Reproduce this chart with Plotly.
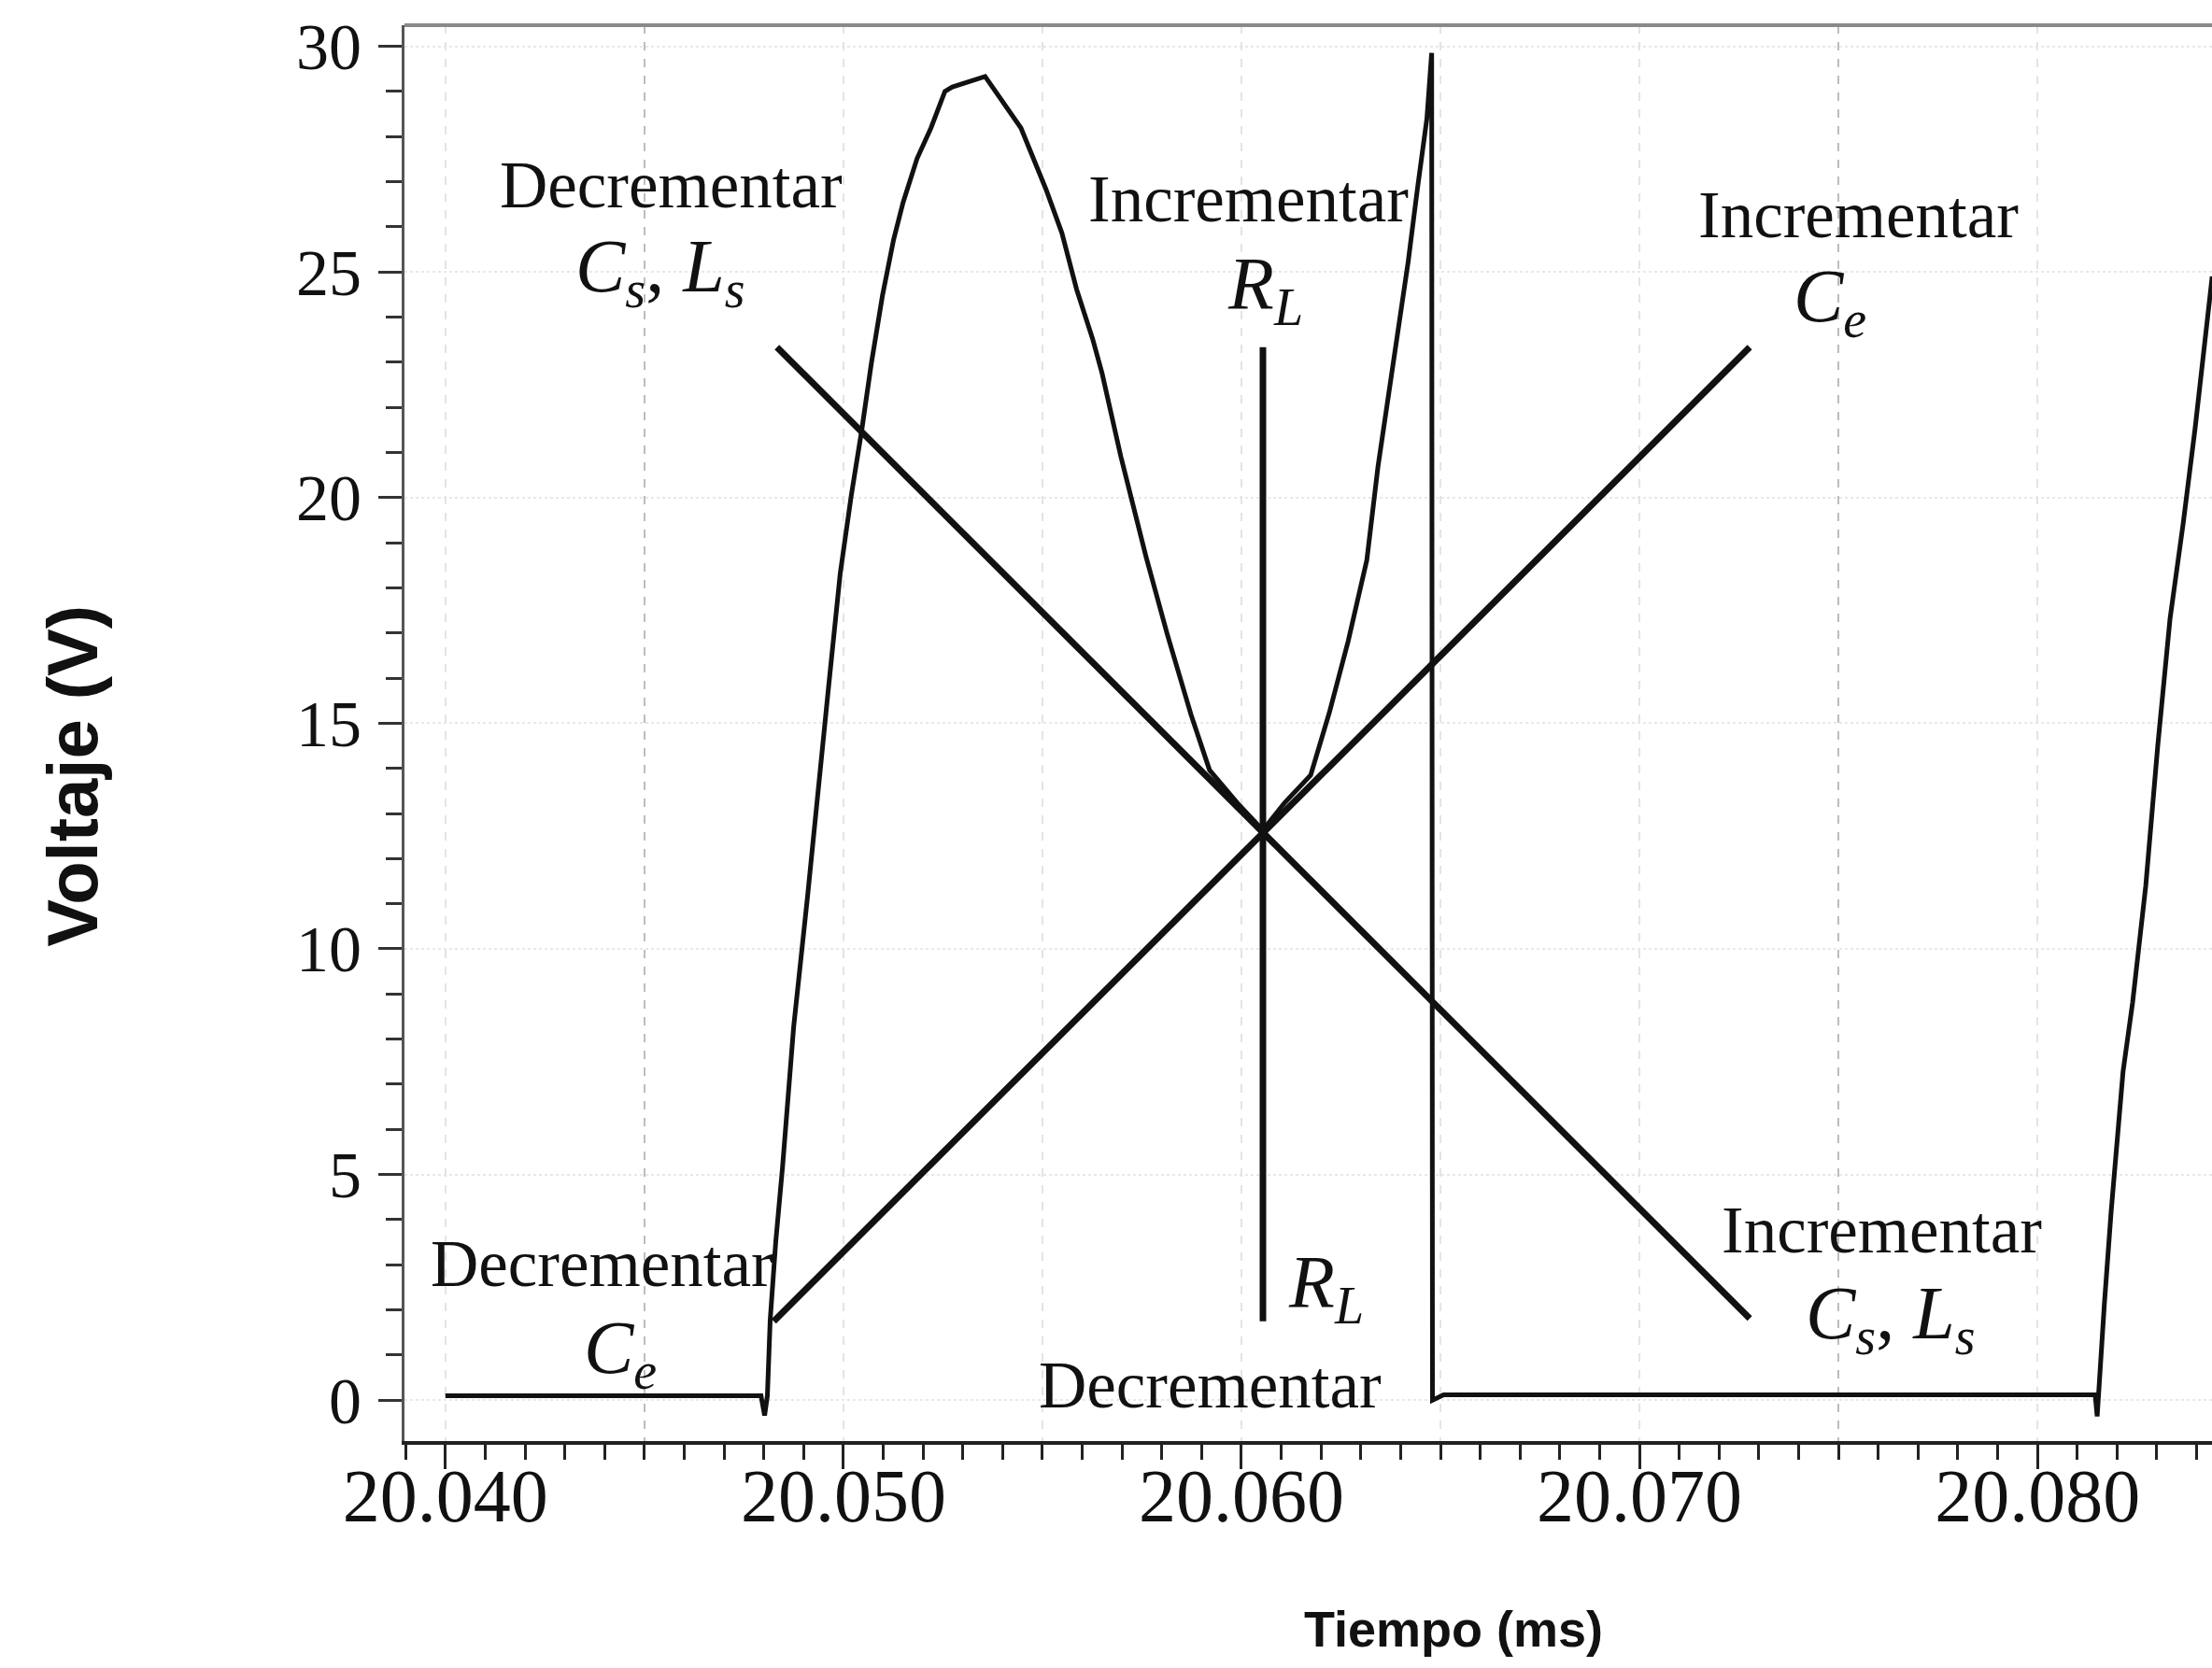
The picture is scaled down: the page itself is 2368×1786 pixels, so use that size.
import plotly.graph_objects as go

# Output voltage waveform of the converter (time in ms, voltage in V)
t_ms = [
    20.04000, 20.04793, 20.04802, 20.04809, 20.04816, 20.04830, 20.04847, 20.04875,
    20.04910, 20.04938, 20.04962, 20.04992, 20.05020, 20.05046, 20.05070, 20.05098,
    20.05126, 20.05150, 20.05185, 20.05220, 20.05255, 20.05274, 20.05356, 20.05446,
    20.05509, 20.05549, 20.05586, 20.05626, 20.05650, 20.05697, 20.05760, 20.05814,
    20.05873, 20.05920, 20.05990, 20.06054, 20.06108, 20.06174, 20.06221, 20.06268,
    20.06315, 20.06343, 20.06362, 20.06390, 20.06419, 20.06442, 20.06466, 20.06478,
    20.06480, 20.06508, 20.08145, 20.08150, 20.08157, 20.08168, 20.08185, 20.08201,
    20.08215, 20.08239, 20.08272, 20.08302, 20.08333, 20.08366, 20.08396, 20.08439,
]
v_volts = [
    0.10, 0.10, -0.34, 0.10, 1.77, 3.51, 5.16, 8.27,
    11.17, 13.52, 15.74, 18.32, 20.06, 21.49, 22.96, 24.47,
    25.71, 26.54, 27.51, 28.19, 29.00, 29.10, 29.33, 28.19,
    26.83, 25.86, 24.61, 23.52, 22.75, 20.91, 18.70, 16.96,
    15.20, 13.96, 13.23, 12.63, 13.23, 13.85, 15.24, 16.81,
    18.61, 20.68, 21.78, 23.52, 25.23, 26.83, 28.40, 29.85,
    0.00, 0.12, 0.12, -0.36, 0.78, 2.12, 4.17, 5.72,
    7.28, 8.81, 11.39, 14.48, 17.31, 19.42, 21.53, 24.90,
]

# Trend lines for the effect of each component
dec_cs_ls_t = [20.04833, 20.07277]
dec_cs_ls_v = [23.33, 1.81]
inc_ce_t = [20.04825, 20.07277]
inc_ce_v = [1.75, 23.33]
rl_t = [20.06054, 20.06054]
rl_v = [1.75, 23.33]

# Labels: text, time, voltage, font size
labels = [
    ("Decrementar", 20.04568, 26.93, 71),
    ("<i>C<sub>s</sub></i>, <i>L<sub>s</sub></i>", 20.04539, 25.00, 80),
    ("Incrementar", 20.06018, 26.62, 71),
    ("<i>R<sub>L</sub></i>", 20.06060, 24.62, 80),
    ("Incrementar", 20.07551, 26.27, 71),
    ("<i>C<sub>e</sub></i>", 20.07479, 24.34, 80),
    ("Decrementar", 20.04394, 3.03, 71),
    ("<i>C<sub>e</sub></i>", 20.04439, 1.03, 80),
    ("<i>R<sub>L</sub></i>", 20.06213, 2.49, 80),
    ("Decrementar", 20.05922, 0.34, 71),
    ("Incrementar", 20.07610, 3.78, 71),
    ("<i>C<sub>s</sub></i>, <i>L<sub>s</sub></i>", 20.07631, 1.81, 80),
]

x_tick_vals = [20.040, 20.050, 20.060, 20.070, 20.080]
x_tick_text = ["20.040", "20.050", "20.060", "20.070", "20.080"]
x_grid_faint = [20.040, 20.050, 20.055, 20.060, 20.065, 20.070, 20.080]
x_grid_marked = [20.045, 20.075]
y_tick_vals = [0, 5, 10, 15, 20, 25, 30]

X_RANGE = [20.038972, 20.084385]
Y_RANGE = [-0.906, 30.466]

fig = go.Figure()

# Empty traces that anchor the two gridline overlay axes
fig.add_trace(go.Scatter(x=[], y=[], xaxis="x2", yaxis="y", hoverinfo="skip"))
fig.add_trace(go.Scatter(x=[], y=[], xaxis="x3", yaxis="y", hoverinfo="skip"))

fig.add_trace(go.Scatter(x=t_ms, y=v_volts, mode="lines",
                         line=dict(color="#111111", width=5), hoverinfo="skip"))
for tx, vy in [(dec_cs_ls_t, dec_cs_ls_v), (inc_ce_t, inc_ce_v), (rl_t, rl_v)]:
    fig.add_trace(go.Scatter(x=tx, y=vy, mode="lines",
                             line=dict(color="#111111", width=7), hoverinfo="skip"))

for text, tx, vy, size in labels:
    fig.add_annotation(x=tx, y=vy, text=text, showarrow=False,
                       font=dict(family="Liberation Serif", size=size, color="#111111"),
                       xanchor="center", yanchor="middle")

# Axis titles
fig.add_annotation(xref="paper", yref="paper", x=-0.1835, y=0.4697,
                   text="<b>Voltaje (V)</b>", textangle=-90, showarrow=False,
                   font=dict(family="Liberation Sans", size=76, color="#111111"),
                   xanchor="center", yanchor="middle")
fig.add_annotation(xref="paper", yref="paper", x=0.5804, y=-0.1326,
                   text="<b>Tiempo (ms)</b>", showarrow=False,
                   font=dict(family="Liberation Sans", size=54, color="#111111"),
                   xanchor="center", yanchor="middle")

# Top frame line
fig.add_shape(type="line", xref="paper", yref="paper", x0=0, x1=1, y0=1, y1=1,
              line=dict(color="#8a8a8a", width=4))

overlay_axis = dict(range=X_RANGE, overlaying="x", tickmode="array",
                    showticklabels=False, ticks="", showline=False, zeroline=False,
                    gridwidth=2, griddash="dash")

fig.update_layout(
    width=2368, height=1786,
    margin=dict(l=433, r=0, t=27, b=243),
    paper_bgcolor="white", plot_bgcolor="white",
    showlegend=False,
    xaxis=dict(
        range=X_RANGE,
        tickmode="array", tickvals=x_tick_vals, ticktext=x_tick_text,
        ticks="outside", ticklen=26, tickwidth=3, tickcolor="#222222",
        minor=dict(tick0=20.040, dtick=0.001, ticks="outside", ticklen=16,
                   tickwidth=3, tickcolor="#222222", showgrid=False),
        showgrid=False,
        showline=True, linecolor="#222222", linewidth=4,
        zeroline=False, ticklabelstandoff=-40,
        tickfont=dict(family="Liberation Serif", size=80, color="#111111"),
    ),
    xaxis2=dict(overlay_axis, tickvals=x_grid_faint, showgrid=True, gridcolor="#e4e4e4"),
    xaxis3=dict(overlay_axis, tickvals=x_grid_marked, showgrid=True, gridcolor="#bdbdbd"),
    yaxis=dict(
        range=Y_RANGE,
        tickmode="array", tickvals=y_tick_vals,
        ticks="outside", ticklen=25, tickwidth=3, tickcolor="#333333",
        minor=dict(tick0=0, dtick=1, ticks="outside", ticklen=17,
                   tickwidth=3, tickcolor="#333333", showgrid=False),
        showgrid=True, gridcolor="#e8e8e8", gridwidth=2, griddash="dot",
        showline=True, linecolor="#555555", linewidth=3,
        zeroline=False, ticklabelstandoff=4,
        tickfont=dict(family="Liberation Serif", size=70, color="#111111"),
    ),
)

fig.write_html("out.html")
